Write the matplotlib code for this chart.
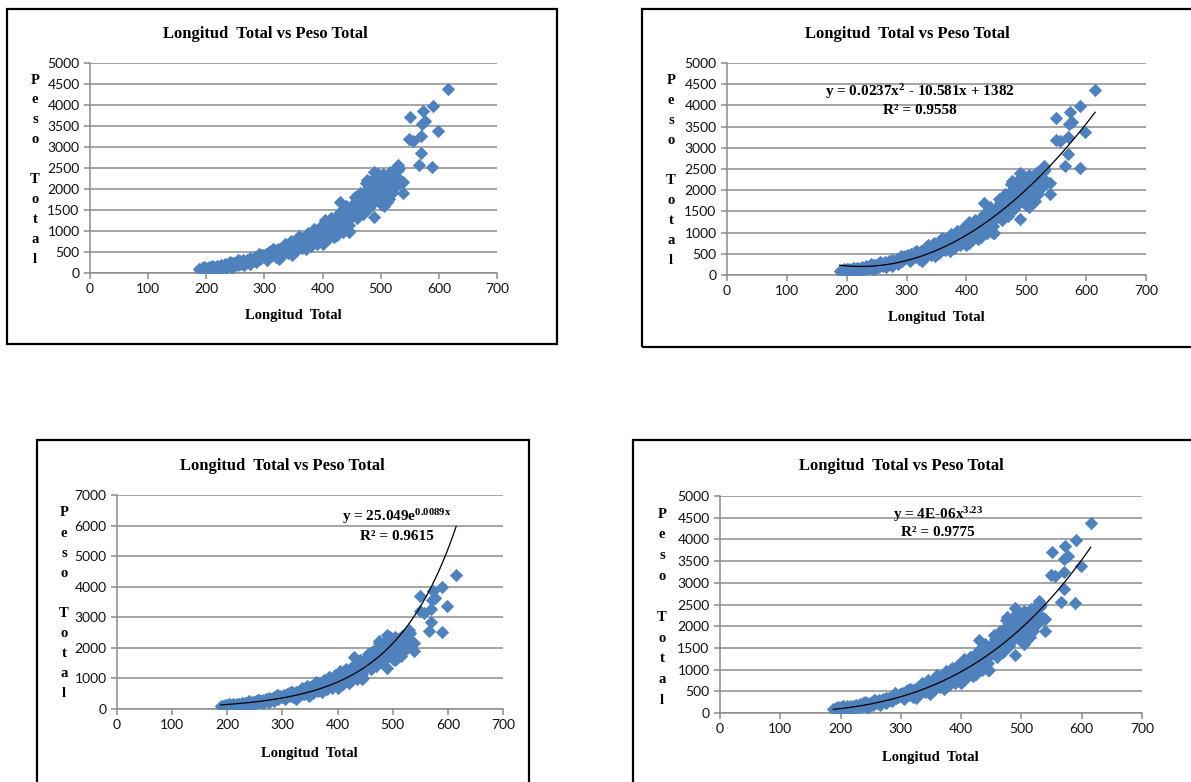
import numpy as np
import matplotlib
matplotlib.use("Agg")
import matplotlib.pyplot as plt
from matplotlib.patches import Rectangle

# Longitud Total (x) and Peso Total (y)
longitud = [
    188, 190, 192, 195, 197, 200, 202, 204, 206, 208, 210, 212, 214, 216, 218, 220,
    222, 224, 226, 228, 230, 232, 234, 236, 238, 240, 242, 244, 246, 248, 250, 252,
    254, 256, 258, 260,
    262, 264, 266, 268, 270, 272, 274, 276, 278, 280, 282, 284, 286, 288, 290, 292,
    294, 296, 298, 300,
    302, 304, 306, 308, 310, 312, 314, 316, 318, 320, 322, 324, 325, 328, 330, 330,
    332, 334, 336, 338, 340, 342, 344, 346, 348, 348, 350,
    352, 354, 356, 358, 360, 362, 364, 366, 368, 370, 372, 374, 376, 378, 380, 382,
    384, 386, 388, 390, 392, 394, 396, 398, 400, 400, 404,
    402, 404, 406, 408, 410, 412, 414, 416, 418, 420, 420, 422, 424, 426, 428, 430,
    432, 434, 436, 438, 440, 442, 444, 446, 448, 450,
    452, 454, 456, 458, 460, 462, 464, 466, 468, 470, 472, 474, 476, 478, 480, 482,
    484, 486, 488, 490, 492, 494, 496, 498, 500, 500, 502,
    504, 506, 508, 510, 512, 514, 516, 518, 520, 522, 525, 528, 532,
    196, 210, 225, 240, 245, 255, 265, 275, 285, 290, 305, 315, 320, 335, 340, 345,
    355, 360, 365, 375, 380, 385, 390, 395, 405, 410, 415, 425, 430, 435, 440, 445,
    455, 460, 465, 470, 475, 480, 485, 495, 505, 510, 515, 520, 525, 530, 535,
    615, 590, 573, 550, 577, 571, 598, 549, 556, 570, 570, 565, 589, 529, 539, 539,
    489, 489, 430, 476, 445,
]
peso = [
    90, 70, 110, 100, 80, 130, 95, 150, 120, 85, 160, 110, 140, 100, 170, 130,
    150, 110, 190, 140, 170, 210, 130, 180, 220, 160, 200, 240, 170, 230, 200, 260,
    190, 240, 280, 220,
    260, 300, 230, 280, 320, 270, 300, 350, 290, 340, 300, 380, 330, 360, 400, 340,
    420, 380, 440, 400,
    460, 380, 430, 500, 450, 520, 420, 480, 540, 500, 460, 560, 340, 520, 590, 430,
    540, 620, 500, 580, 650, 600, 700, 560, 640, 440, 720,
    680, 760, 620, 720, 800, 700, 780, 840, 740, 820, 560, 880, 800, 900, 760, 860,
    940, 820, 980, 900, 1020, 860, 960, 1060, 920, 700, 760,
    1000, 1120, 900, 1060, 1200, 980, 1140, 1280, 1050, 1180, 850, 1320, 1100, 1240, 1380, 1150,
    1300, 1420, 1200, 1360, 1480, 1280, 1400, 1000, 1540, 1350,
    1600, 1450, 1700, 1520, 1780, 1600, 1420, 1720, 1850, 1650, 1900, 1750, 2000, 1820, 2100, 1700,
    1950, 2200, 1800, 2050, 2300, 1750, 2150, 1900, 2250, 1650, 2000,
    2350, 1850, 2100, 1700, 2250, 1950, 2400, 2100, 2200, 2450, 2300, 2150, 2500,
    140, 60, 90, 260, 120, 300, 180, 220, 270, 450, 320, 560, 380, 700, 480, 760,
    520, 880, 600, 960, 640, 1040, 700, 1100, 1250, 820, 1300, 900, 1450, 980, 1600, 1150,
    1800, 1300, 1900, 1400, 2150, 1550, 1650, 2350, 1600, 2300, 1750, 1900, 2050, 2450, 2200,
    4370, 3980, 3850, 3710, 3620, 3550, 3380, 3190, 3150, 3260, 2850, 2560, 2530, 2570, 2170, 1900,
    2410, 1330, 1690, 2210, 980,
]

titulo = "Longitud  Total vs Peso Total"
eje_x = "Longitud  Total"
eje_y = "Peso Total"

# trend lines as printed on the charts (coefficients)
quad = [0.0237, -10.581, 1382]
expo = [25.049, 0.0089]
pot = [3.75e-6, 3.23]

W, H = 1191, 782
blue = "#4F81BD"
grid = "#8C8C8C"

plt.rcParams["font.family"] = "Liberation Serif"
plt.rcParams["mathtext.fontset"] = "custom"
plt.rcParams["mathtext.rm"] = "Liberation Serif:bold"
plt.rcParams["mathtext.it"] = "Liberation Serif:bold"
plt.rcParams["mathtext.bf"] = "Liberation Serif:bold"

fig = plt.figure(figsize=(W / 100, H / 100), dpi=100)


def fx(px):
    return px / W


def fy(py):
    return 1 - py / H


def panel(box, frame, ymax, ystep, title_xy, xlab_xy, yletters):
    # outer black frame of the Excel chart
    x0, y0, x1, y1 = frame
    fig.patches.append(Rectangle((fx(x0), fy(y1)), fx(x1 - x0), (y1 - y0) / H,
                                 transform=fig.transFigure, fill=False,
                                 edgecolor="black", linewidth=1.6))
    l, t, r, b = box
    ax = fig.add_axes([fx(l), fy(b), fx(r - l), (b - t) / H])
    ax.scatter(longitud, peso, marker="D", s=46, color=blue, linewidths=0, zorder=3)
    ax.set_xlim(0, 700)
    ax.set_ylim(0, ymax)
    ax.set_xticks(np.arange(0, 701, 100))
    ax.set_yticks(np.arange(0, ymax + 1, ystep))
    ax.grid(axis="y", color=grid, linewidth=1.1)
    ax.set_axisbelow(True)
    for s in ["top", "right"]:
        ax.spines[s].set_visible(False)
    for s in ["left", "bottom"]:
        ax.spines[s].set_color(grid)
        ax.spines[s].set_linewidth(1.1)
    ax.tick_params(colors=grid, length=4, width=1.1, labelcolor="#111111")
    for lab in ax.get_xticklabels() + ax.get_yticklabels():
        lab.set_fontfamily("Lato")
        lab.set_fontsize(10)
    fig.text(fx(title_xy[0]), fy(title_xy[1]), titulo, ha="center", va="center",
             fontsize=12, fontweight="bold")
    fig.text(fx(xlab_xy[0]), fy(xlab_xy[1]), eje_x, ha="center", va="center",
             fontsize=10.5, fontweight="bold")
    lx, ly, step = yletters
    for i, c in enumerate(eje_y):
        if c != " ":
            fig.text(fx(lx), fy(ly + i * step), c, ha="center", va="center",
                     fontsize=10.5, fontweight="bold")
    return ax


xs = np.linspace(min(longitud), max(longitud), 200)

ax1 = panel((90, 63, 497, 273), (7, 9, 557, 344), 5000, 500,
            (265, 34), (293, 315), (35, 80, 19.9))

ax2 = panel((727, 63, 1146, 275), (642, 9, 1200, 347), 5000, 500,
            (907, 34), (936, 318), (671, 80, 20.0))
ax2.plot(xs, np.polyval(quad, xs), color="black", linewidth=0.9, zorder=4)
fig.text(fx(920), fy(92), "y = 0.0237x$^{2}$ - 10.581x + 1382", ha="center", va="center",
         fontsize=11, fontweight="bold")
fig.text(fx(920), fy(111), "R² = 0.9558", ha="center", va="center",
         fontsize=11, fontweight="bold")

ax3 = panel((117, 495, 503, 709), (37, 440, 529, 800), 7000, 1000,
            (282, 466), (309, 753), (64, 513, 20.1))
ax3.plot(xs, expo[0] * np.exp(expo[1] * xs), color="black", linewidth=0.9, zorder=4)
fig.text(fx(397), fy(517), "y = 25.049e$^{0.0089x}$", ha="center", va="center",
         fontsize=11, fontweight="bold")
fig.text(fx(397), fy(536), "R² = 0.9615", ha="center", va="center",
         fontsize=11, fontweight="bold")

ax4 = panel((720, 496, 1142, 713), (633, 440, 1200, 800), 5000, 500,
            (901, 466), (930, 758), (662, 514, 20.7))
ax4.plot(xs, pot[0] * xs ** pot[1], color="black", linewidth=0.9, zorder=4)
fig.text(fx(938), fy(515), "y = 4E-06x$^{3.23}$", ha="center", va="center",
         fontsize=11, fontweight="bold")
fig.text(fx(938), fy(533), "R² = 0.9775", ha="center", va="center",
         fontsize=11, fontweight="bold")

fig.savefig("out.png", dpi=100)
